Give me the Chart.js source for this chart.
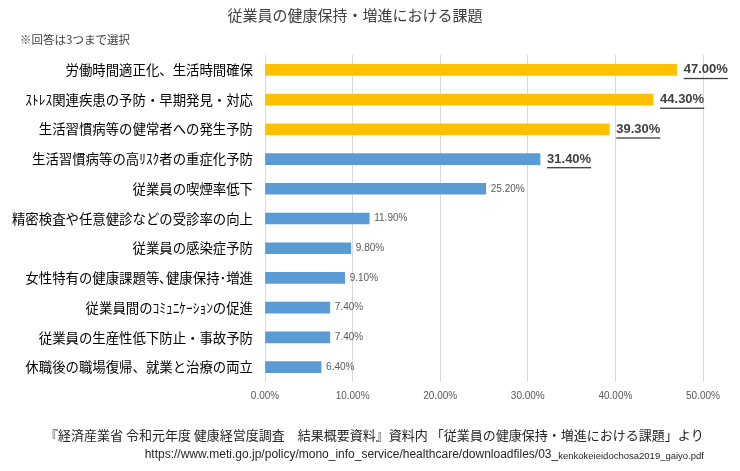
<!DOCTYPE html>
<html>
<head>
<meta charset="utf-8">
<script src="https://cdn.jsdelivr.net/npm/chart.js@4"></script>
<style>
  body { margin: 0; background: #fff; }
</style>
</head>
<body>
<canvas id="grap1" width="740" height="471"></canvas>
<script>
// categories and values, top to bottom
var labels = [
    "労働時間適正化、生活時間確保",
    "ｽﾄﾚｽ関連疾患の予防・早期発見・対応",
    "生活習慣病等の健常者への発生予防",
    "生活習慣病等の高ﾘｽｸ者の重症化予防",
    "従業員の喫煙率低下",
    "精密検査や任意健診などの受診率の向上",
    "従業員の感染症予防",
    "女性特有の健康課題等､健康保持･増進",
    "従業員間のｺﾐｭﾆｹｰｼｮﾝの促進",
    "従業員の生産性低下防止・事故予防",
    "休職後の職場復帰、就業と治療の両立"
];
var values = [47.0, 44.3, 39.3, 31.4, 25.2, 11.9, 9.8, 9.1, 7.4, 7.4, 6.4];
var top3 = 3;        // gold bars
var boldLabels = 4;  // bold underlined value labels

var titleText = "従業員の健康保持・増進における課題";
var noteText = "※回答は3つまで選択";
var sourceText = "『経済産業省 令和元年度 健康経営度調査　結果概要資料』資料内 「従業員の健康保持・増進における課題」より";
var urlText1 = "https://www.meti.go.jp/policy/mono_info_service/healthcare/downloadfiles/03_";
var urlText2 = "kenkokeieidochosa2019_gaiyo.pdf";

var jp = "'Noto Sans CJK JP', sans-serif";
var num = "'Liberation Sans', Arial, sans-serif";

Chart.defaults.font.family = jp;

// text around the chart + value labels
var extras = {
    id: 'extras',
    afterDatasetsDraw: function (chart) {
        var ctx = chart.ctx;
        ctx.save();

        ctx.fillStyle = '#404040';
        ctx.font = '15px ' + jp;
        ctx.textAlign = 'center';
        ctx.textBaseline = 'middle';
        ctx.fillText(titleText, 355, 15);

        ctx.font = '11.5px ' + jp;
        ctx.textAlign = 'left';
        ctx.fillStyle = '#404040';
        ctx.fillText(noteText, 20, 40);

        var meta = chart.getDatasetMeta(0);
        meta.data.forEach(function (bar, i) {
            var txt = values[i].toFixed(2) + '%';
            var x = bar.x + 5;
            if (i < boldLabels) {
                ctx.font = 'bold 13px ' + num;
                ctx.fillStyle = '#404040';
                ctx.fillText(txt, x + 2, bar.y);
                var w = ctx.measureText(txt).width;
                ctx.fillRect(x + 2, bar.y + 8, w, 1.3);
            } else {
                ctx.font = '10px ' + num;
                ctx.fillStyle = '#595959';
                ctx.fillText(txt, x, bar.y);
            }
        });

        ctx.fillStyle = '#262626';
        ctx.font = '13px ' + jp;
        ctx.textAlign = 'left';
        ctx.fillText(sourceText, 45, 435);

        ctx.font = '12px ' + num;
        var w1 = ctx.measureText(urlText1).width;
        ctx.font = '9.5px ' + num;
        var w2 = ctx.measureText(urlText2).width;
        var sx = 704 - w1 - w2;
        ctx.font = '12px ' + num;
        ctx.fillText(urlText1, sx, 455);
        ctx.font = '9.5px ' + num;
        ctx.fillText(urlText2, sx + w1, 456);

        ctx.restore();
    }
};

var ctx = document.getElementById('grap1').getContext('2d');
var chart = new Chart(ctx, {
    type: 'bar',
    data: {
        labels: labels,
        datasets: [
            {
                data: values,
                backgroundColor: values.map(function (v, i) { return i < top3 ? '#FFC000' : '#5B9BD5'; }),
                barThickness: 11
            }
        ]
    },
    options: {
        indexAxis: 'y',
        responsive: false,
        animation: false,
        devicePixelRatio: 1,
        layout: {
            padding: { top: 55, right: 37, left: 0, bottom: 0 }
        },
        plugins: {
            legend: { display: false },
            title: { display: false },
            tooltip: { enabled: false }
        },
        scales: {
            x: {
                min: 0,
                max: 50,
                border: { display: false },
                grid: { color: '#d9d9d9', drawTicks: false },
                ticks: {
                    stepSize: 10,
                    padding: 8,
                    color: '#595959',
                    font: { family: num, size: 10 },
                    callback: function (v) { return v.toFixed(2) + '%'; }
                },
                afterFit: function (s) { s.height = 89; }
            },
            y: {
                border: { display: false },
                grid: { display: false, drawTicks: false },
                ticks: {
                    padding: 12,
                    color: '#000',
                    font: { family: jp, size: 13.4 }
                },
                afterFit: function (s) { s.width = 265; }
            }
        }
    },
    plugins: [extras]
});
</script>
</body>
</html>
